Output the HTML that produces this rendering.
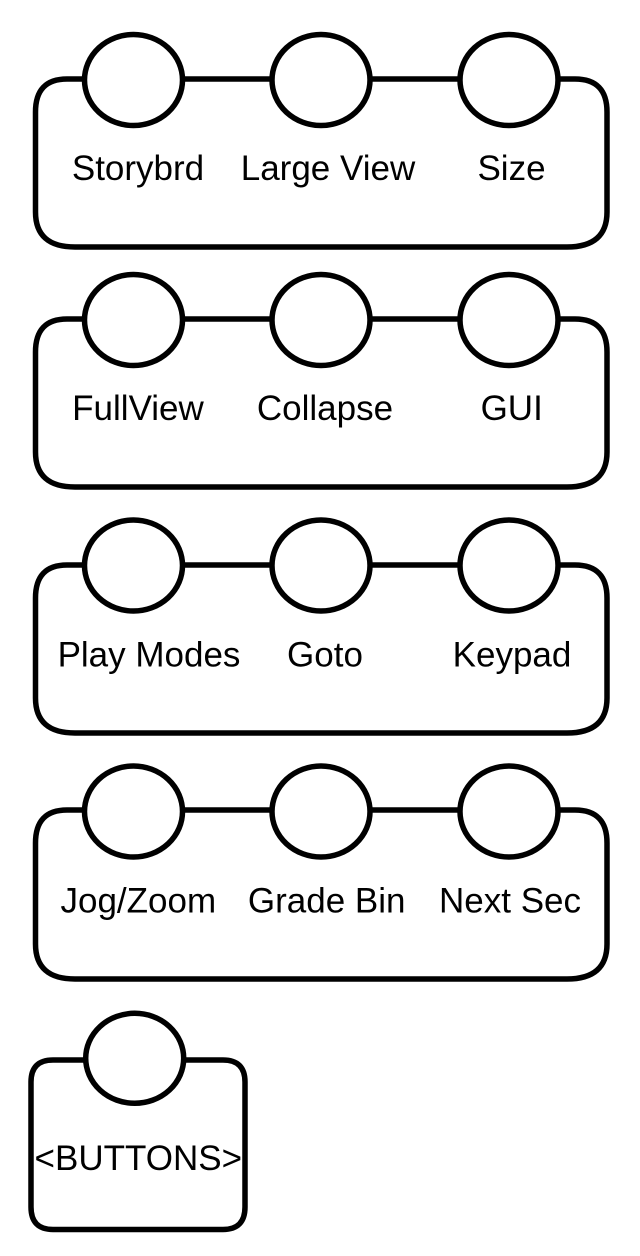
<!DOCTYPE html>
<html>
<head>
<meta charset="utf-8">
<style>
  html, body { margin: 0; padding: 0; background: #ffffff; }
  body { width: 640px; height: 1256px; overflow: hidden; }
  svg { display: block; }
  text { font-family: "Liberation Sans", Arial, sans-serif; font-size: 35px; fill: #000; }
</style>
</head>
<body>
<svg width="640" height="1256" viewBox="0 0 640 1256" xmlns="http://www.w3.org/2000/svg">
  <g fill="none" stroke="#000" stroke-width="5.5">
    <!-- Row 1 box -->
    <path d="M 67 79 L 575 79 Q 607 79 607 112 L 607 212 Q 607 247 567 247 L 75 247 Q 35.5 247 35.5 212 L 35.5 112 Q 35.5 79 67 79 Z"/>
    <!-- Row 2 box -->
    <path d="M 67 319 L 575 319 Q 607 319 607 352 L 607 452 Q 607 487 567 487 L 75 487 Q 35.5 487 35.5 452 L 35.5 352 Q 35.5 319 67 319 Z"/>
    <!-- Row 3 box -->
    <path d="M 67 565 L 575 565 Q 607 565 607 598 L 607 698 Q 607 733 567 733 L 75 733 Q 35.5 733 35.5 698 L 35.5 598 Q 35.5 565 67 565 Z"/>
    <!-- Row 4 box -->
    <path d="M 67 810 L 575 810 Q 607 810 607 843 L 607 944 Q 607 979 567 979 L 75 979 Q 35.5 979 35.5 944 L 35.5 843 Q 35.5 810 67 810 Z"/>
    <!-- Row 5 box -->
    <path d="M 53 1060 L 223 1060 Q 245 1060 245 1082 L 245 1207 Q 245 1229.5 223 1229.5 L 53 1229.5 Q 31 1229.5 31 1207 L 31 1082 Q 31 1060 53 1060 Z"/>
  </g>
  <g fill="#fff" stroke="#000" stroke-width="5.5">
    <ellipse cx="133.5" cy="80" rx="49" ry="45.5"/>
    <ellipse cx="321" cy="80" rx="49" ry="45.5"/>
    <ellipse cx="509" cy="80" rx="49" ry="45.5"/>

    <ellipse cx="133.5" cy="320" rx="49" ry="45.5"/>
    <ellipse cx="321" cy="320" rx="49" ry="45.5"/>
    <ellipse cx="509" cy="320" rx="49" ry="45.5"/>

    <ellipse cx="133.5" cy="565.5" rx="49" ry="45.5"/>
    <ellipse cx="321" cy="565.5" rx="49" ry="45.5"/>
    <ellipse cx="509" cy="565.5" rx="49" ry="45.5"/>

    <ellipse cx="133.5" cy="811.5" rx="49" ry="45.5"/>
    <ellipse cx="321" cy="811.5" rx="49" ry="45.5"/>
    <ellipse cx="509" cy="811.5" rx="49" ry="45.5"/>

    <ellipse cx="134.7" cy="1058.3" rx="49" ry="45"/>
  </g>
  <g text-anchor="middle">
    <text x="138" y="180">Storybrd</text>
    <text x="328" y="180">Large View</text>
    <text x="511.5" y="180">Size</text>

    <text x="138" y="420">FullView</text>
    <text x="325" y="420">Collapse</text>
    <text x="511.7" y="420">GUI</text>

    <text x="149" y="666.5">Play Modes</text>
    <text x="325" y="666.5">Goto</text>
    <text x="512" y="666.5">Keypad</text>

    <text x="138.3" y="912.5">Jog/Zoom</text>
    <text x="326.7" y="912.5">Grade Bin</text>
    <text x="510" y="912.5">Next Sec</text>

    <text x="138.3" y="1170">&lt;BUTTONS&gt;</text>
  </g>
</svg>
</body>
</html>
